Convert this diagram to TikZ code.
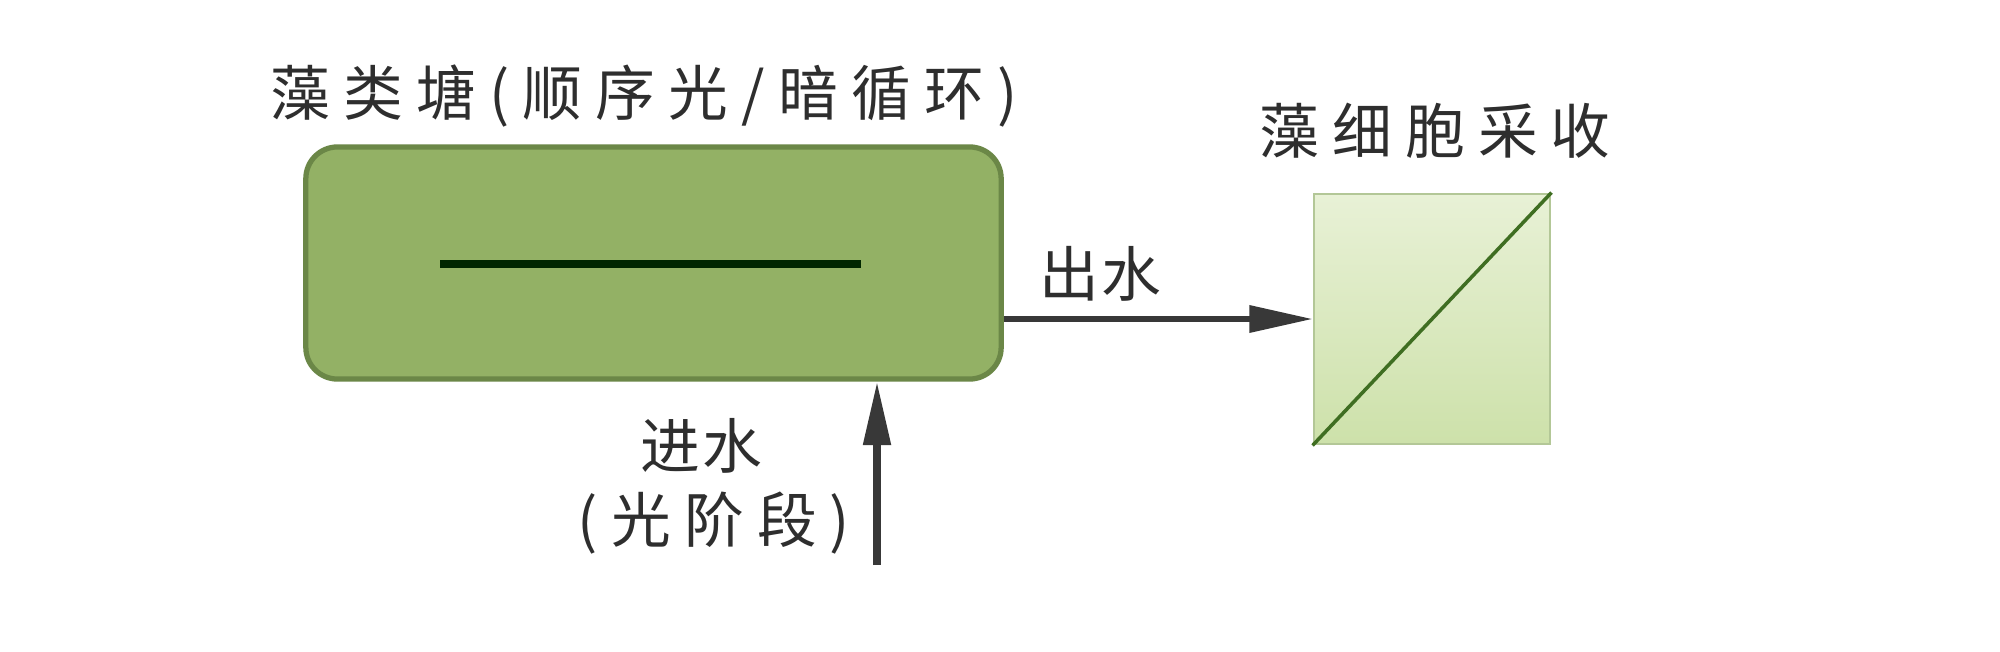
\documentclass[tikz,border=0pt]{standalone}
\usepackage{fontspec}
\newfontfamily\cjk{Noto Sans CJK SC}[LetterSpace=4]
\newfontfamily\cjkwide{Noto Sans CJK SC}[LetterSpace=22]
\usetikzlibrary{arrows.meta}
\definecolor{pondfill}{HTML}{93B165}
\definecolor{ponddraw}{HTML}{6B8747}
\definecolor{harvtop}{HTML}{E8F1D6}
\definecolor{harvbot}{HTML}{CDE1AA}
\definecolor{harvdraw}{HTML}{B3C797}
\definecolor{diagline}{HTML}{3F6E22}
\definecolor{txt}{HTML}{2E2E2E}
\definecolor{arr}{HTML}{383838}
\tikzset{
  lbl/.style={font=\cjk\fontsize{17}{19}\selectfont, text=txt, inner sep=0pt},
  widelbl/.style={font=\cjkwide\fontsize{17}{19}\selectfont, text=txt, inner sep=0pt},
  flow/.style={draw=arr, line width=1.6pt, -{Triangle[length=18pt,width=7.5pt]}},
}
\begin{document}
\begin{tikzpicture}[x=0.01cm,y=-0.01cm]
\useasboundingbox[fill=white] (0,0) rectangle (2000,651);
% pond
\node[draw=ponddraw, line width=1.5pt, fill=pondfill, rounded corners=9pt,
      minimum width=695*0.2845pt, minimum height=232*0.2845pt, inner sep=0pt]
      (pond) at (653.5,263) {};
\draw[line width=2.4pt, draw=black!85!green] (440,264) -- (861,264);
\node[widelbl] (title) at (644,96) {藻类塘(顺序光/暗循环)};
% harvest box
\node[draw=harvdraw, line width=0.8pt, top color=harvtop, bottom color=harvbot,
      minimum width=236*0.2845pt, minimum height=250*0.2845pt, inner sep=0pt]
      (harv) at (1432,319) {};
\draw[diagline, line width=1pt] (harv.south west) -- (harv.north east);
\node[widelbl] (htitle) at (1435,131) {藻细胞采收};
% outflow
\draw[flow] (pond.east |- 0,319) -- (harv.west |- 0,319);
\node[lbl] (out) at (1100,274) {出水};
% inflow
\coordinate (inbot) at (877,565);
\draw[flow, line width=2pt] (inbot) -- (inbot |- pond.south);
\node[lbl] (in1) at (701,446) {进水};
\node[widelbl] (in2) at (714,523) {(光阶段)};
\end{tikzpicture}
\end{document}
